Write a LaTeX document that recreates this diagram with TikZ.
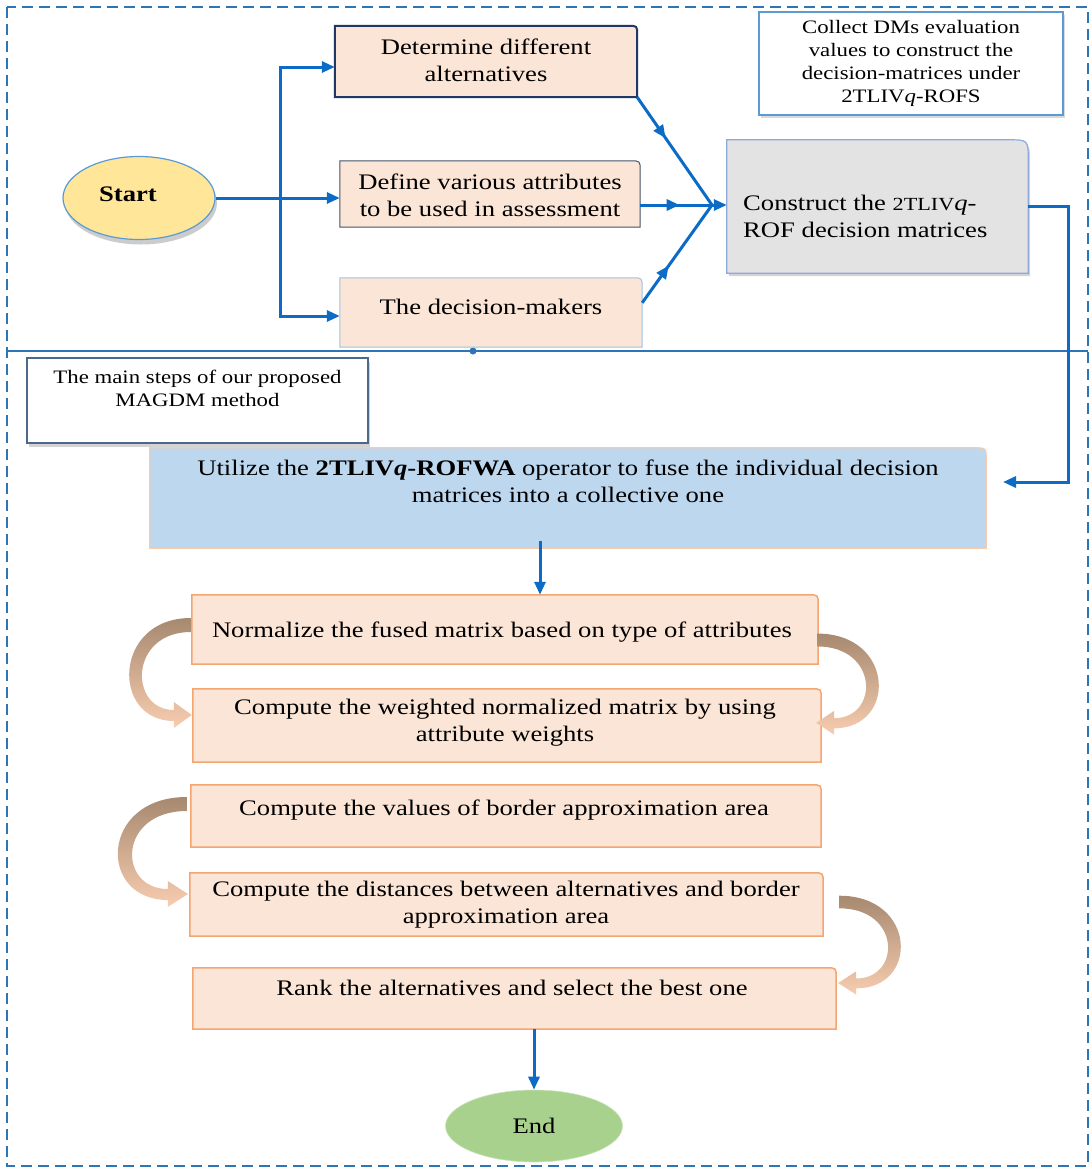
\documentclass[tikz,border=0pt]{standalone}
\usepackage{fontspec}
\setmainfont{Liberation Serif}[FakeStretch=1.2]
\usetikzlibrary{calc,shapes.geometric,arrows.meta,decorations.markings,shadows}
\definecolor{peach}{HTML}{FBE5D6}
\definecolor{navy}{HTML}{203864}
\definecolor{slate}{HTML}{44546A}
\definecolor{lblue}{HTML}{9DC3E6}
\definecolor{orng}{HTML}{F4A672}
\definecolor{skyb}{HTML}{BDD7EE}
\definecolor{lgray}{HTML}{E3E3E3}
\definecolor{abl}{HTML}{0B6BC6}
\definecolor{frm}{HTML}{2E75B6}
\definecolor{ylw}{HTML}{FFE699}
\definecolor{grn}{HTML}{A9D18E}
\definecolor{mblue}{HTML}{5B9BD5}
\definecolor{gbord}{HTML}{8EA9DB}
\definecolor{ubord}{HTML}{F8CBAD}
\definecolor{cbrown}{RGB}{166,137,112}
\definecolor{cmid}{HTML}{E6B592}
\definecolor{cpeach}{HTML}{F8CDB0}
\newcommand\mainsz{\fontsize{22.2}{27}\selectfont}
\newcommand\smallsz{\fontsize{19}{23}\selectfont}
\newcommand\trbox[3]{\path[#3] (#1.south west) -- (#1.north west) -- ($(#1.north east)+(-#2,0)$) .. controls (#1.north east) .. ($(#1.north east)+(0,#2)$) -- (#1.south east) -- cycle;}
\tikzset{
  shp/.style={rectangle, inner sep=0, draw=none},
  txt/.style={align=center, font=\mainsz, inner sep=0},
  bl/.style={draw=abl, line width=3},
  bla/.style={bl, -{Triangle[length=13pt,width=11pt]}},
  midarr/.style={postaction={decorate}, decoration={markings, mark=at position #1 with {\arrow{Triangle[length=13pt,width=11pt]}}}},
  pics/carrow/.style={code={
    \shade[top color=cbrown, middle color=cmid, bottom color=cpeach]
      (0,-7) .. controls (-78,-7) and (-80,96) .. (-17,96) -- (-17,103) -- (1,90)
      -- (-17,77) -- (-17,85) .. controls (-62,85) and (-62,7) .. (0,7) -- cycle;
  }}
}
\begin{document}
\begin{tikzpicture}[x=1pt,y=-1pt]
\useasboundingbox (0,0) rectangle (1092,1171);
% frame
\draw[frm, line width=1.5, dash pattern=on 11pt off 6pt] (7,7) rectangle (1088,1166);
\draw[frm, line width=1.8] (7,351) -- (1088,351);
\fill[frm] (473,351) circle[radius=3.5pt];

% start
\node[ellipse, minimum width=152, minimum height=83, fill=ylw, draw=mblue, line width=1.2,
  drop shadow={opacity=0.4, shadow xshift=2pt, shadow yshift=-5pt}, inner sep=0] (start) at (139,198) {};
\node[txt, font=\mainsz\bfseries] (startt) at (128,194) {Start};

% top boxes
\node[shp, minimum width=302, minimum height=71] (b1) at (486,61.5) {};
\trbox{b1}{9}{fill=peach, draw=navy, line width=2}
\node[txt] (b1t) at (486,60) {Determine different\\alternatives};

\node[shp, minimum width=300, minimum height=66] (b2) at (490,194) {};
\trbox{b2}{10}{fill=peach, draw=slate, line width=1}
\node[txt] (b2t) at (490,195) {Define various attributes\\to be used in assessment};

\node[shp, minimum width=302, minimum height=69] (b3) at (491,312.5) {};
\trbox{b3}{10}{fill=peach, draw=lblue, line width=1}
\node[txt] (b3t) at (491,307) {The decision-makers};

\node[shp, minimum width=301, minimum height=133] (g) at (877.5,206.5) {};
\trbox{g}{20}{fill=lgray, draw=gbord, line width=1.2, drop shadow={opacity=0.35, shadow xshift=2pt, shadow yshift=-3pt}}
\node[txt, align=left, anchor=west] (gt) at (743,216) {Construct the {\fontsize{18.5}{27}\selectfont 2TLIV}\textit{q}-\\ROF decision matrices};

\node[rectangle, minimum width=304, minimum height=103, fill=white, draw=mblue, line width=1.5,
  drop shadow={opacity=0.3, shadow xshift=2pt, shadow yshift=-3pt}, align=center, font=\smallsz, inner sep=0] (col) at (911,63.5)
  {Collect DMs evaluation\\values to construct the\\decision-matrices under\\2TLIV\textit{q}-ROFS};

% lower part
\node[rectangle, minimum width=341, minimum height=85, fill=white, draw=slate!70!mblue, line width=1.5,
  drop shadow={opacity=0.35, shadow xshift=2pt, shadow yshift=-4pt}] (ms) at (197.5,400.5) {};
\node[txt, font=\smallsz] (mst) at (197.5,388.5) {The main steps of our proposed\\MAGDM method};

\node[shp, minimum width=836, minimum height=100] (u) at (568,498) {};
\trbox{u}{12}{fill=skyb, draw=ubord, line width=1.2}
\node[txt] (ut) at (568,481.5) {Utilize the \textbf{2TLIV\textit{q}-ROFWA} operator to fuse the individual decision\\matrices into a collective one};

\node[shp, minimum width=626, minimum height=69] (n1) at (505,629.5) {};
\trbox{n1}{10}{fill=peach, draw=orng, line width=1.5}
\node[txt] (n1t) at (502,632) {Normalize the fused matrix based on type of attributes};

\node[shp, minimum width=628, minimum height=73] (n2) at (507,725.5) {};
\trbox{n2}{10}{fill=peach, draw=orng, line width=1.5}
\node[txt] (n2t) at (505,723) {Compute the weighted normalized matrix by using\\attribute weights};

\node[shp, minimum width=630, minimum height=62] (n3) at (506,816) {};
\trbox{n3}{10}{fill=peach, draw=orng, line width=1.5}
\node[txt] (n3t) at (504,810) {Compute the values of border approximation area};

\node[shp, minimum width=633, minimum height=63] (n4) at (506.5,904.5) {};
\trbox{n4}{10}{fill=peach, draw=orng, line width=1.5}
\node[txt] (n4t) at (506,905) {Compute the distances between alternatives and border\\approximation area};

\node[shp, minimum width=643, minimum height=61] (r) at (514.5,998.5) {};
\trbox{r}{10}{fill=peach, draw=orng, line width=1.5}
\node[txt] (rt) at (512,988) {Rank the alternatives and select the best one};

\node[ellipse, minimum width=177, minimum height=72, fill=grn, draw=grn!60!white, line width=0.6, font=\mainsz, inner sep=0] (e) at (534,1126) {End};

% curved arrows
\pic at ($(n1.west)+(-1,-4.5)$) {carrow};
\pic[xscale=1.12] at ($(n3.west)+(-4,-12)$) {carrow};
\pic[xscale=-1, yscale=0.92] at ($(n1.east)+(-1,10.5)$) {carrow};
\pic[xscale=-1, yscale=0.9] at ($(n4.east)+(16,-2.5)$) {carrow};

% blue connectors
\coordinate (jt) at (280,67);
\coordinate (jb) at (280,316);
\draw[bla] (start.east) -- (start.east -| b2.west);
\draw[bla] (jb) -- (jt) -- (jt -| b1.west);
\draw[bla] (jt) -- (jb) -- (jb -| b3.west);
\coordinate (cv) at (712,205);
\draw[bl, midarr=0.38] (b1.south east) -- (cv);
\draw[bl, midarr=0.55] (cv -| b2.east) -- (cv);
\draw[bl, midarr=0.38] ($(b3.north east)+(0,25)$) -- (cv);
\draw[bla] (cv) -- (cv -| g.west);
\coordinate (gr) at (1068,482);
\coordinate (ua) at (1003,482);
\draw[bla] (g.east) -| (gr) -- (ua);
\coordinate (us) at (540,541);
\draw[bla] (us) -- (us |- n1.north);
\draw[bla] (e.north |- r.south) -- (e.north);
\end{tikzpicture}
\end{document}
